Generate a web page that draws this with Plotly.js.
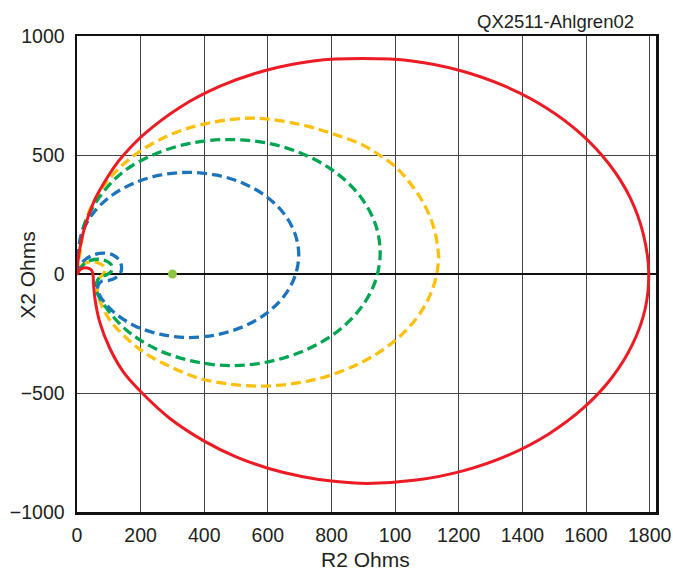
<!DOCTYPE html>
<html>
<head>
<meta charset="utf-8">
<script src="https://cdn.plot.ly/plotly-3.0.1.min.js"></script>
<style>html,body{margin:0;padding:0;background:#fff;}#chart{width:673px;height:570px;}</style>
</head>
<body>
<div id="chart"></div>
<script>
// ---- data (R2 ohms, X2 ohms) ----
const redR = [0,2,7,18,31,56,88,123,165,212,323,450,592,743,898,1053,1204,1345,1473,1584,1673,1739,1780,1797,1786,1746,1681,1592,1483,1356,1216,1066,912,800,710,600,500,400,291,200,145,103,71,56,52,50,45,33,20,9,0];
const redX = [0,40,92,165,225,313,390,461,527,589,700,789,855,895,905,895,855,789,700,589,461,320,169,10,-146,-296,-436,-563,-672,-761,-826,-866,-880,-870,-852,-816,-768,-702,-606,-494,-410,-312,-200,-100,-40,0,17,25,25,17,0];

const blueR = [0,3,15,49.5,104.6,176.5,260,350,440,523.5,595.4,650.5,685,697,685,650.5,595.4,523.5,440,350,261,179,113,68.5,66,78,100,122,137,140,133,113,83,52,28,14,5];
const blueX = [0,80,170,253.5,325.4,380.5,415,427,415,380.5,325.4,253.5,170,80,-10,-93.5,-165.4,-220.5,-255,-267,-253,-216,-157,-82.5,-50,-30,-27,-15,5,31,58,80,88,80,63,45,20];

const greenR = [0,4,22,70,142,240.5,355,478,601,715.5,814,889.4,937,953,937,889.4,814,715.5,601,478,356,245.5,154,88,59,62,72,92,106,111,106,90,66,45,26,10,3];
const greenX = [0,90,205,322,426,501.4,549,565,549,501.4,426,327.5,213,90,-33,-147.5,-246,-321.4,-369,-385,-364,-313,-234,-135,-62.5,-35,-12,-4,8,24,42,56,62,58,46,25,10];

const yellowR = [0,4,10,30,86,174,291,400,522,600,710,800,898,950,1000,1045,1079,1107,1126,1134,1137,1134,1129,1110,1079,1041,1000,937,856,767,672,574,476,381,291,211,145,103,77,64,66,72,83,88,82,65,45,25,10,3];
const yellowX = [0,50,94,235,374,493,584,630,654,651,626,591,542,500,452,385,321,249,172,110,67,28,-13,-88,-164,-227,-279,-340,-395,-437,-462,-471,-462,-437,-388,-330,-256,-193,-130,-74,-40,-14,0,17,35,48,52,45,28,12];

const dotR = [300];
const dotX = [0];

const xTickVals = [0,200,400,600,800,1000,1200,1400,1600,1800];
const xTickText = ["0","200","400","600","800","100","1200","1400","1600","1800"];
const yTickVals = [-1000,-500,0,500,1000];
const yTickText = ["\u22121000","\u2212500","0","500","1000"];

const dashed = "10px,5px";
const sm = 1;
const traces = [
  {x: yellowR, y: yellowX, mode: 'lines', line: {color: '#FDC010', width: 3.3, dash: dashed, shape: 'spline', smoothing: sm}},
  {x: greenR, y: greenX, mode: 'lines', line: {color: '#00A651', width: 3.3, dash: dashed, shape: 'spline', smoothing: sm}},
  {x: blueR, y: blueX, mode: 'lines', line: {color: '#1C75BC', width: 3.3, dash: dashed, shape: 'spline', smoothing: sm}},
  {x: redR, y: redX, mode: 'lines', line: {color: '#ED1C24', width: 3, shape: 'spline', smoothing: sm}},
  {x: dotR, y: dotX, mode: 'markers', marker: {color: '#8DC63F', size: 9}}
];

const fontFam = '"Liberation Sans", Arial, sans-serif';
const txt = '#231F20';
const layout = {
  width: 673, height: 570,
  margin: {l: 77, r: 17, t: 36, b: 58},
  paper_bgcolor: '#ffffff', plot_bgcolor: '#ffffff',
  showlegend: false,
  font: {family: fontFam, color: txt, size: 19.5},
  xaxis: {
    range: [0, 1820], tickvals: xTickVals, ticktext: xTickText,
    showgrid: true, gridcolor: '#444', gridwidth: 1, zeroline: false,
    showline: true, linecolor: '#111', linewidth: 2.5, mirror: true,
    ticks: '', ticklabelstandoff: 4,
    tickfont: {size: 19.5, color: txt}
  },
  yaxis: {
    range: [-1000, 1000], tickvals: yTickVals, ticktext: yTickText,
    showgrid: true, gridcolor: '#444', gridwidth: 1,
    zeroline: true, zerolinecolor: '#111', zerolinewidth: 1.5,
    showline: true, linecolor: '#111', linewidth: 2.5, mirror: true,
    ticks: '', ticklabelstandoff: 6,
    tickfont: {size: 19.5, color: txt}
  },
  annotations: [
    {text: 'QX2511-Ahlgren02', xref: 'paper', yref: 'paper', x: 0.965, y: 1,
     xanchor: 'right', yanchor: 'bottom', yshift: 2, showarrow: false,
     font: {size: 18.5, color: txt, family: fontFam}},
    {text: 'R2 Ohms', xref: 'paper', yref: 'paper', x: 0.499, y: -0.1,
     xanchor: 'center', yanchor: 'middle', showarrow: false,
     font: {size: 21, color: txt, family: fontFam}},
    {text: 'X2 Ohms', xref: 'paper', yref: 'paper', x: -0.085, y: 0.498,
     xanchor: 'center', yanchor: 'middle', textangle: -90, showarrow: false,
     font: {size: 21, color: txt, family: fontFam}}
  ]
};

Plotly.newPlot('chart', traces, layout, {displayModeBar: false, staticPlot: true});
</script>
</body>
</html>
